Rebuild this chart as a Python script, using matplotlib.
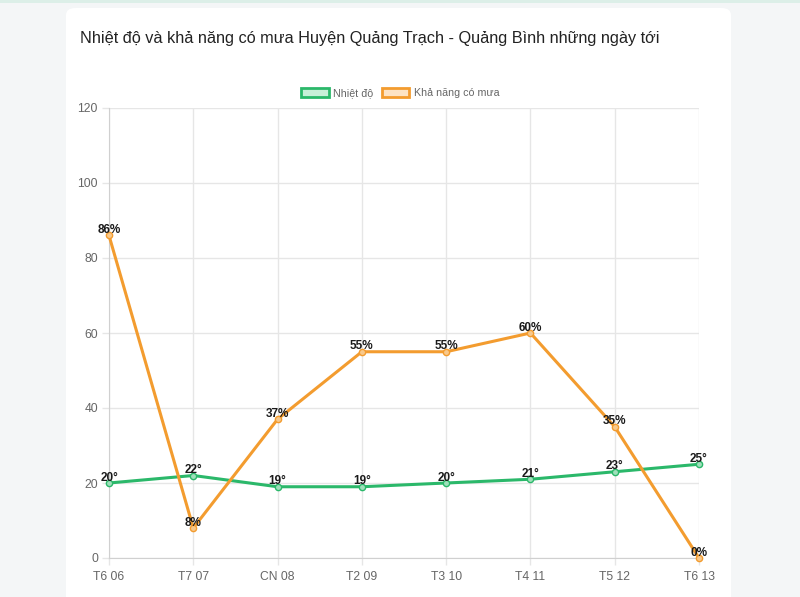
import matplotlib.pyplot as plt
from matplotlib.patches import FancyBboxPatch, Rectangle

plt.rcParams['font.family'] = ['Liberation Sans', 'DejaVu Sans']

days = ['T6 06', 'T7 07', 'CN 08', 'T2 09', 'T3 10', 'T4 11', 'T5 12', 'T6 13']
temp = [20, 22, 19, 19, 20, 21, 23, 25]
rain = [86, 8, 37, 55, 55, 60, 35, 0]

green = '#2bb86a'
orange = '#f39c2f'

fig = plt.figure(figsize=(8, 5.97), dpi=100)
fig.patch.set_facecolor('#f4f6f7')
fig.patches.append(Rectangle((0, 0.995), 1, 0.005, transform=fig.transFigure,
                             facecolor='#dcefe8', edgecolor='none', zorder=-10))
fig.patches.append(FancyBboxPatch((66 / 800, -0.05), 665 / 800, 1 - 8 / 597 + 0.05,
                                  boxstyle='round,pad=0,rounding_size=0.012',
                                  transform=fig.transFigure, facecolor='white',
                                  edgecolor='none', zorder=-10))
fig.text(80 / 800, 1 - 38 / 597, 'Nhiệt độ và khả năng có mưa Huyện Quảng Trạch - Quảng Bình những ngày tới',
         fontsize=11.7, color='#222222', va='center', ha='left')

ax = fig.add_axes([109 / 800, 39 / 597, 590 / 800, 450 / 597])
ax.set_facecolor('none')
x = list(range(len(days)))

ax.plot(x, temp, color=green, lw=2.2, marker='o', ms=4.5, mfc='#9fe0bb', mec=green, mew=1, zorder=3)
ax.plot(x, rain, color=orange, lw=2.2, marker='o', ms=4.5, mfc='#f8c98c', mec=orange, mew=1, zorder=3)

for i, v in enumerate(temp):
    ax.annotate(f'{v}°', (i, v), xytext=(0, -0.5), textcoords='offset points',
                ha='center', va='bottom', fontsize=8.5, fontweight='bold', color='#1a1a1a', zorder=4)
for i, v in enumerate(rain):
    ax.annotate(f'{v}%', (i, v), xytext=(0, -0.5), textcoords='offset points',
                ha='center', va='bottom', fontsize=8.5, fontweight='bold', color='#1a1a1a', zorder=4)

ax.set_xlim(0, len(days) - 1)
ax.set_ylim(0, 120)
ax.set_yticks(range(0, 121, 20))
ax.set_xticks(x)
ax.set_xticklabels(days)
ax.grid(True, color='#e6e6e6', lw=1)
ax.set_axisbelow(True)
for s in ['top', 'right']:
    ax.spines[s].set_visible(False)
for s in ['left', 'bottom']:
    ax.spines[s].set_color('#d0d0d0')
ax.tick_params(colors='#666666', labelsize=8.7, length=5, width=1)
ax.tick_params(axis='x', color='#e6e6e6', pad=4)
ax.tick_params(axis='y', color='#e6e6e6', pad=3)
for ln in ax.lines:
    ln.set_clip_on(False)

handles = [Rectangle((0, 0), 1, 1, facecolor='#c8f0d8', edgecolor=green, lw=2),
           Rectangle((0, 0), 1, 1, facecolor='#fde3c4', edgecolor=orange, lw=2)]
fig.legend(handles, ['Nhiệt độ', 'Khả năng có mưa'], loc='center', bbox_to_anchor=(400 / 800, 1 - 93 / 597),
           ncol=2, frameon=False, fontsize=7.7, handlelength=2.6, handleheight=0.9,
           handletextpad=0.4, columnspacing=0.8, labelcolor='#666666')

fig.savefig('out.png', dpi=100, facecolor=fig.get_facecolor())
